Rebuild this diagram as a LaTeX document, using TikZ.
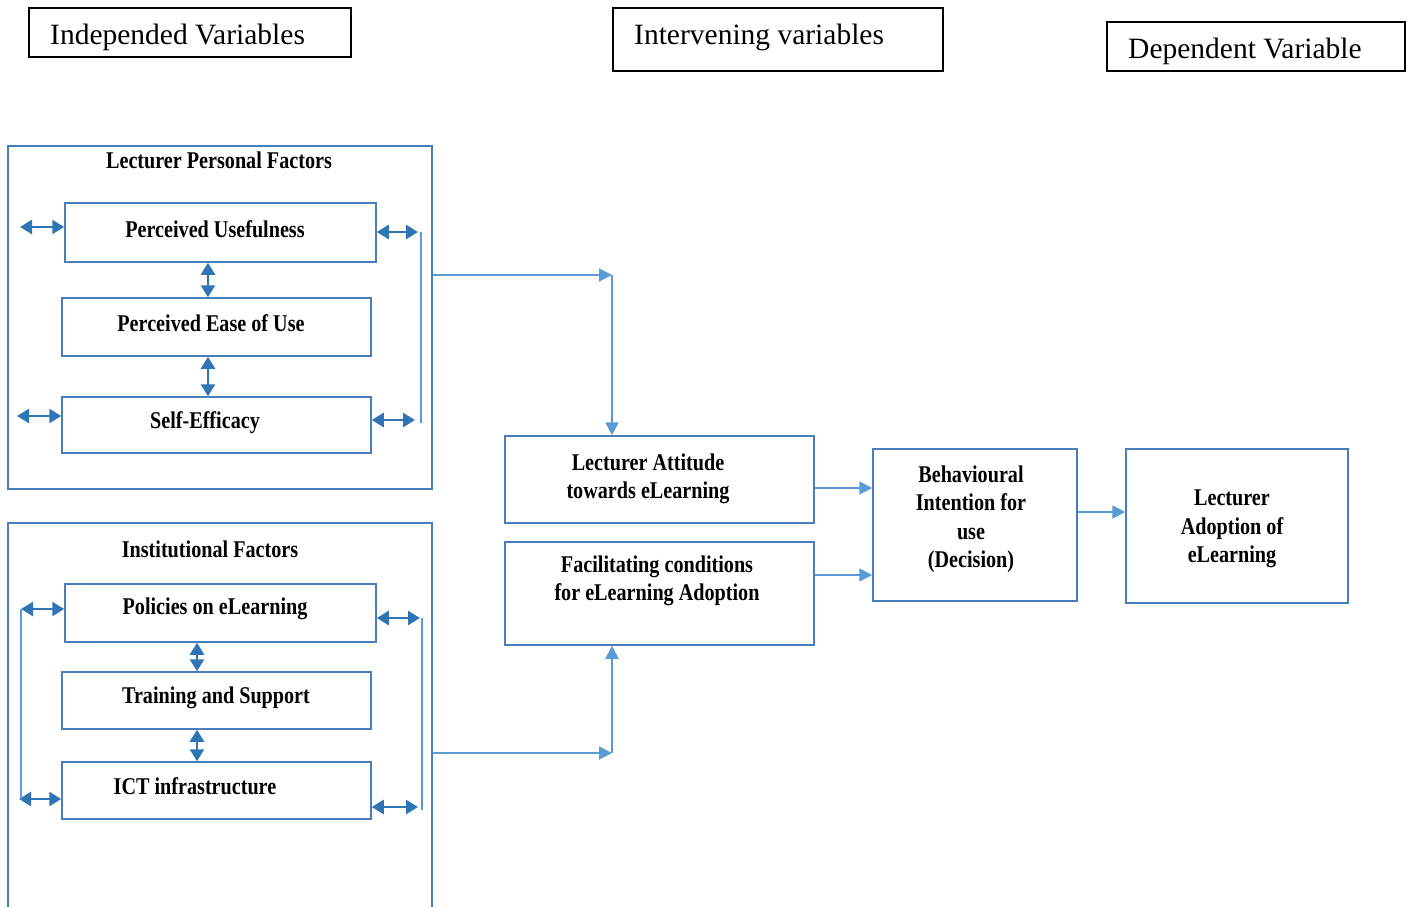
\documentclass[tikz,border=0pt]{standalone}
\usepackage{fontspec}
\setmainfont{Liberation Serif}
\newfontfamily\condf[FakeStretch=0.84]{Liberation Serif}
\usetikzlibrary{arrows.meta}
\definecolor{boxblue}{HTML}{4A7EBB}
\definecolor{arrblue}{HTML}{2E75B6}
\definecolor{conblue}{HTML}{5B9BD5}
\tikzset{
  hdr/.style={draw=black, line width=2pt, rectangle, inner sep=0pt},
  hdrtxt/.style={anchor=west, inner sep=0pt, font=\fontsize{29.5}{33}\selectfont},
  bx/.style={draw=boxblue, line width=1.5pt, rectangle, inner sep=0pt},
  txt/.style={inner sep=0pt, align=center, font=\condf\bfseries\fontsize{24}{28.5}\selectfont},
  dbl/.style={arrblue, line width=2.6pt, {Triangle[length=12pt,width=14pt]}-{Triangle[length=12pt,width=14pt]}},
  conn/.style={conblue, line width=1.8pt, -{Triangle[length=13pt,width=13pt]}},
  thin/.style={conblue, line width=1.8pt}
}
\begin{document}
\begin{tikzpicture}[x=1pt,y=-1pt]
\useasboundingbox (0,0) rectangle (1411,906);
% headers
\node[hdr, minimum width=322pt, minimum height=49pt] (h1) at (190,32.5) {};
\node[hdrtxt] (h1t) at (50,37) {Independed Variables};
\node[hdr, minimum width=330pt, minimum height=63pt] (h2) at (778,39.5) {};
\node[hdrtxt] (h2t) at (634,37) {Intervening variables};
\node[hdr, minimum width=298pt, minimum height=49pt] (h3) at (1256,46.5) {};
\node[hdrtxt] (h3t) at (1128,51) {Dependent Variable};
% lecturer personal factors
\node[bx, minimum width=424pt, minimum height=343pt] (lpf) at (220,317.5) {};
\node[txt] (lpft) at (219,160) {Lecturer Personal Factors};
\node[bx, minimum width=311pt, minimum height=59pt] (pu) at (220.5,232.5) {};
\node[txt] (put) at (215,229) {Perceived Usefulness};
\node[bx, minimum width=309pt, minimum height=58pt] (peu) at (216.5,327) {};
\node[txt] (peut) at (211,323) {Perceived Ease of Use};
\node[bx, minimum width=309pt, minimum height=56pt] (se) at (216.5,425) {};
\node[txt] (set) at (205,423) {Self-Efficacy};
% institutional factors
\node[bx, minimum width=424pt, minimum height=420pt] (inst) at (220,733) {};
\node[txt] (instt) at (210,549) {Institutional Factors};
\node[bx, minimum width=311pt, minimum height=58pt] (pol) at (220.5,613) {};
\node[txt] (polt) at (215,609) {Policies on eLearning};
\node[bx, minimum width=309pt, minimum height=57pt] (tr) at (216.5,700.5) {};
\node[txt] (trt) at (216,698) {Training and Support};
\node[bx, minimum width=309pt, minimum height=57pt] (ict) at (216.5,790.5) {};
\node[txt] (ictt) at (195,786) {ICT infrastructure};
% intervening
\node[bx, minimum width=309pt, minimum height=87pt] (att) at (659.5,479.5) {};
\node[txt] (attt) at (648,479) {Lecturer Attitude\\towards eLearning};
\node[bx, minimum width=309pt, minimum height=103pt] (fac) at (659.5,593.5) {};
\node[txt] (fact) at (657,581) {Facilitating conditions\\for eLearning Adoption};
\node[bx, minimum width=204pt, minimum height=152pt] (bi) at (975,525) {};
\node[txt] (bit) at (971,519) {Behavioural\\Intention for\\use\\(Decision)};
\node[bx, minimum width=222pt, minimum height=154pt] (ad) at (1237,526) {};
\node[txt] (adt) at (1232,529) {Lecturer\\Adoption of\\eLearning};
% arrows inside lecturer personal factors
\coordinate (a1) at (20,227);
\draw[dbl] (a1) -- (pu.west |- a1);
\coordinate (a2) at (17,416);
\draw[dbl] (a2) -- (se.west |- a2);
\coordinate (a3) at (418,232);
\draw[dbl] (pu.east |- a3) -- (a3);
\coordinate (a4) at (415,420);
\draw[dbl] (se.east |- a4) -- (a4);
\coordinate (v1) at (421,232);
\coordinate (v2) at (421,423);
\draw[thin] (v1) -- (v2);
\draw[dbl] ([xshift=-12.5pt]pu.south) -- ([xshift=-8.5pt]peu.north);
\draw[dbl] ([xshift=-8.5pt]peu.south) -- ([xshift=-8.5pt]se.north);
% arrows inside institutional factors
\coordinate (b1) at (21,609);
\draw[dbl] (b1) -- (pol.west |- b1);
\coordinate (b2) at (19,799);
\draw[dbl] (b2) -- (ict.west |- b2);
\coordinate (w1) at (21,609);
\coordinate (w2) at (21,799);
\draw[thin] (w1) -- (w2);
\coordinate (b3) at (420,618);
\draw[dbl] (pol.east |- b3) -- (b3);
\coordinate (b4) at (418,807);
\draw[dbl] (ict.east |- b4) -- (b4);
\coordinate (u1) at (422,618);
\coordinate (u2) at (422,810);
\draw[thin] (u1) -- (u2);
\draw[dbl] ([xshift=-23.5pt]pol.south) -- ([xshift=-19.5pt]tr.north);
\draw[dbl] ([xshift=-19.5pt]tr.south) -- ([xshift=-19.5pt]ict.north);
% connectors
\coordinate (k1) at (612,275);
\draw[conn] (lpf.east |- k1) -- (k1);
\draw[conn] (k1) -- (att.north -| k1);
\coordinate (k2) at (612,753);
\draw[conn] (inst.east |- k2) -- (k2);
\draw[conn] (k2) -- (fac.south -| k2);
\coordinate (k3) at (700,488);
\draw[conn] (att.east |- k3) -- (bi.west |- k3);
\coordinate (k4) at (700,575);
\draw[conn] (fac.east |- k4) -- (bi.west |- k4);
\coordinate (k5) at (1100,512);
\draw[conn] (bi.east |- k5) -- (ad.west |- k5);
\end{tikzpicture}
\end{document}
